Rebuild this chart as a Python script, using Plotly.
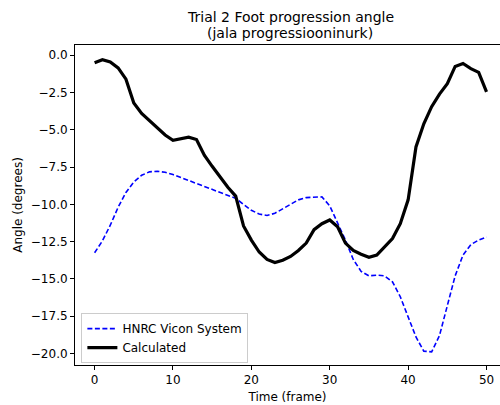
import plotly.graph_objects as go

# Frame index
frames = list(range(51))

# Foot progression angle (degrees) per frame
vicon_angle = [
    -13.25, -12.45, -11.4, -10.2, -9.2, -8.5, -8.05, -7.82, -7.78, -7.85,
    -8.0, -8.2, -8.4, -8.6, -8.8, -9.0, -9.2, -9.4, -9.6, -10.0,
    -10.4, -10.65, -10.75, -10.6, -10.3, -9.95, -9.7, -9.55, -9.5, -9.5,
    -10.1, -11.2, -12.4, -13.7, -14.5, -14.8, -14.75, -14.8, -15.2, -16.2,
    -17.5, -18.9, -19.85, -19.9, -18.8, -16.7, -14.8, -13.4, -12.7, -12.4,
    -12.2,
]

calculated_angle = [
    -0.5, -0.3, -0.45, -0.85, -1.6, -3.2, -3.9, -4.4, -4.9, -5.35,
    -5.7, -5.6, -5.5, -5.65, -6.7, -7.45, -8.15, -8.85, -9.45, -11.45,
    -12.4, -13.2, -13.7, -13.9, -13.75, -13.5, -13.1, -12.6, -11.7, -11.3,
    -11.05, -11.5, -12.6, -13.1, -13.35, -13.55, -13.4, -12.85, -12.3, -11.3,
    -9.7, -6.15, -4.6, -3.45, -2.6, -1.9, -0.75, -0.55, -0.9, -1.15,
    -2.45,
]

title_lines = ["Trial 2 Foot progression angle", "(jala progressiooninurk)"]

font_family = "DejaVu Sans"

fig = go.Figure()
fig.add_trace(go.Scatter(
    x=frames, y=vicon_angle, mode="lines", name="HNRC Vicon System",
    line=dict(color="#0000ff", width=1.6, dash="5px,2.5px"),
))
fig.add_trace(go.Scatter(
    x=frames, y=calculated_angle, mode="lines", name="Calculated",
    line=dict(color="black", width=3.2),
))

# Two-line title centred over the axes
for i, line in enumerate(title_lines):
    fig.add_annotation(
        text=line, xref="paper", yref="paper",
        x=0.507, y=1 + (28 - 16 * i) / 320, xanchor="center", yanchor="middle",
        showarrow=False, font=dict(size=14, family=font_family, color="black"),
    )

fig.update_layout(
    width=500, height=405,
    margin=dict(l=75, r=0, t=45, b=40),
    paper_bgcolor="white", plot_bgcolor="white",
    font=dict(family=font_family, size=12, color="black"),
    showlegend=True,
    legend=dict(
        x=0.015, y=0.006, xanchor="left", yanchor="bottom",
        bgcolor="rgba(255,255,255,0.8)", bordercolor="#cccccc", borderwidth=1,
        font=dict(size=12, family=font_family),
        tracegroupgap=0, itemwidth=30,
    ),
)

fig.update_xaxes(
    range=[-2.5, 51.72], tickmode="array", tickvals=[0, 10, 20, 30, 40, 50],
    showgrid=False, zeroline=False,
    showline=True, linecolor="black", linewidth=1, mirror=True,
    ticks="outside", ticklen=4, tickwidth=1, tickcolor="black",
    title=dict(text="Time (frame)", font=dict(size=12), standoff=6),
)
fig.update_yaxes(
    range=[-20.78, 0.69], tickmode="array",
    tickvals=[0, -2.5, -5, -7.5, -10, -12.5, -15, -17.5, -20],
    tickformat=".1f",
    showgrid=False, zeroline=False,
    showline=True, linecolor="black", linewidth=1, mirror=False,
    ticks="outside", ticklen=4, tickwidth=1, tickcolor="black",
    title=dict(text="Angle (degrees)", font=dict(size=12), standoff=5),
)

fig.write_html("out.html")
